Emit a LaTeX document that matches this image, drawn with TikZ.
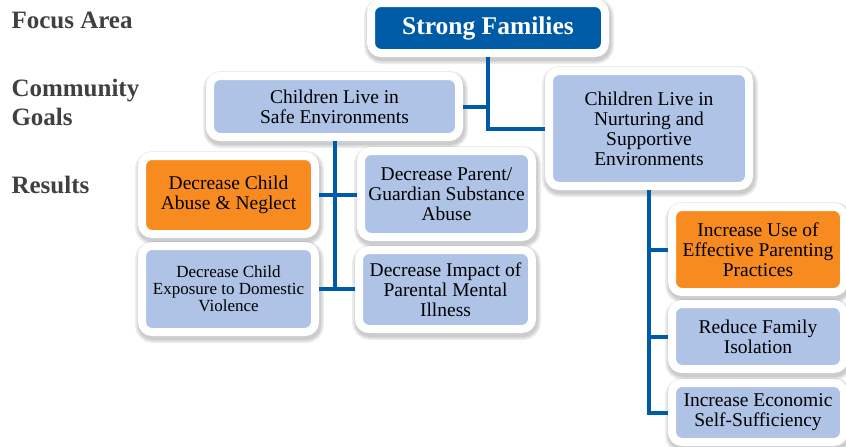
\documentclass[tikz,border=0pt]{standalone}
\usepackage{fontspec}
\setmainfont{Liberation Serif}
\usetikzlibrary{shadows}
\definecolor{darkblue}{RGB}{0,91,166}
\definecolor{lightblue}{RGB}{174,195,229}
\definecolor{boxorange}{RGB}{247,139,31}
\definecolor{labelgray}{RGB}{64,64,64}
\begin{document}
\begin{tikzpicture}[x=1pt,y=-1pt,
  halo/.style={general shadow={draw=black, line width=#1, opacity=0.07, shadow xshift=1pt, shadow yshift=-3pt}},
  box/.style={halo=10pt, halo=13pt, halo=16pt, draw=white, line width=8pt, rounded corners=10pt,
    fill=lightblue, align=center, inner sep=0pt, text=black, font=\fontsize{19.5}{20}\selectfont},
  hilite/.style={box, fill=boxorange},
  link/.style={line width=4pt, darkblue},
  level/.style={anchor=west, align=left, text=labelgray, font=\fontsize{25}{29}\selectfont\bfseries}]
\useasboundingbox (0,0) rectangle (846,447);
\node (focus) at (8,20) [level] {Focus Area};
\node (goals) at (8,102.5) [level] {Community\\Goals};
\node (results) at (8,185) [level] {Results};
\node (strong) at (488,28) [box, fill=darkblue, text=white, minimum width=234pt, minimum height=50pt, font=\fontsize{25.5}{28}\selectfont\bfseries] {Strong Families};
\node (safe) at (334.5,106.5) [box, minimum width=249pt, minimum height=61pt] {Children Live in\\Safe Environments};
\node (nurture) at (649,128.5) [box, minimum width=200pt, minimum height=115pt] {Children Live in\\Nurturing and\\Supportive\\Environments};
\node (abuse) at (228.5,195) [hilite, minimum width=173pt, minimum height=78pt] {Decrease Child\\Abuse \& Neglect};
\node (substance) at (446.5,194) [box, minimum width=171pt, minimum height=86pt] {Decrease Parent/\\Guardian Substance\\Abuse};
\node (exposure) at (228.5,289) [box, minimum width=173pt, minimum height=86pt, font=\fontsize{17}{17}\selectfont] {Decrease Child\\Exposure to Domestic\\Violence};
\node (impact) at (445.5,289.5) [box, minimum width=173pt, minimum height=79pt] {Decrease Impact of\\Parental Mental\\Illness};
\node (parenting) at (758,249.5) [hilite, minimum width=172pt, minimum height=85pt] {Increase Use of\\Effective Parenting\\Practices};
\node (isolation) at (758,336.5) [box, minimum width=172pt, minimum height=65pt] {Reduce Family\\Isolation};
\node (economic) at (758,412.5) [box, minimum width=172pt, minimum height=59pt] {Increase Economic\\Self-Sufficiency};
% focus area to goals
\draw [link] (strong.south) |- (nurture.west);
\draw [link] (safe.east) -- (safe.east -| strong.south);
% safe environments results
\draw [link] (safe.south) -- (safe.south |- exposure.east);
\draw [link] (abuse.east) -- (abuse.east -| substance.west);
\draw [link] (exposure.east) -- (exposure.east -| impact.west);
% nurturing results
\draw [link] (nurture.south) |- (economic.west);
\draw [link] (nurture.south |- parenting.west) -- (parenting.west);
\draw [link] (nurture.south |- isolation.west) -- (isolation.west);
\end{tikzpicture}
\end{document}
